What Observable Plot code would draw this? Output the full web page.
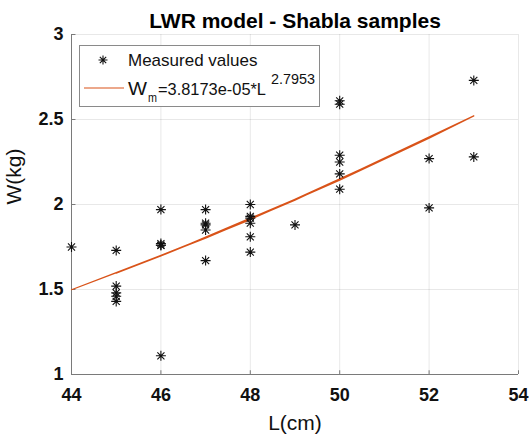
<!DOCTYPE html>
<html>
<head>
<meta charset="utf-8">
<script src="https://cdn.jsdelivr.net/npm/d3@7"></script>
<script src="https://cdn.jsdelivr.net/npm/@observablehq/plot@0.6"></script>
<style>
  html, body { margin: 0; padding: 0; background: #fff; }
  #chart { position: relative; width: 529px; height: 437px; }
  svg { font-family: "Liberation Sans", Arial, Helvetica, sans-serif; }
</style>
</head>
<body>
<div id="chart"></div>
<script>
// Measured samples (in original data order)
const lengths = [46, 50, 48, 45, 47, 50, 52, 48, 46, 44, 47, 49, 53, 50, 48, 45, 46, 48, 50, 47, 45, 46, 48, 52, 53, 50, 47, 45, 46, 48, 50, 47, 45];
const weights = [1.97, 2.29, 1.93, 1.52, 1.89, 2.61, 2.27, 2.00, 1.77, 1.75, 1.97, 1.88, 2.73, 2.18, 1.81, 1.48, 1.76, 1.92, 2.59, 1.85, 1.46, 1.11, 1.89, 1.98, 2.28, 2.25, 1.67, 1.73, 1.76, 1.72, 2.09, 1.88, 1.43];

// Fitted LWR model W = a * L^b (from the legend)
const fitA = 3.8173e-05;
const fitB = 2.7953;

const xTicks = [44, 46, 48, 50, 52, 54];
const yTicks = [1, 1.5, 2, 2.5, 3];
const titleText = "LWR model - Shabla samples";
const xLabel = "L(cm)";
const yLabel = "W(kg)";
const legendMeasured = "Measured values";

const samples = lengths.map((L, i) => ({L, W: weights[i]}));
const fitted = lengths.map(L => ({L, W: fitA * Math.pow(L, fitB)}));

const orange = "#D95319";
const font = '"Liberation Sans", Arial, Helvetica, sans-serif';

// MATLAB-like '*' marker: plus + cross
const star = {
  draw(context, size) {
    const r = Math.sqrt(size / Math.PI);
    const d = r * Math.SQRT1_2;
    context.moveTo(-r, 0); context.lineTo(r, 0);
    context.moveTo(0, -r); context.lineTo(0, r);
    context.moveTo(-d, -d); context.lineTo(d, d);
    context.moveTo(-d, d); context.lineTo(d, -d);
  }
};

const plot = Plot.plot({
  width: 529,
  height: 437,
  marginLeft: 71,
  marginRight: 11,
  marginTop: 34,
  marginBottom: 63,
  style: {fontFamily: font, background: "#fff", overflow: "visible"},
  x: {domain: [44, 54]},
  y: {domain: [1, 3]},
  marks: [
    Plot.gridX(xTicks, {stroke: "#000", strokeOpacity: 0.09, strokeWidth: 1}),
    Plot.gridY(yTicks, {stroke: "#000", strokeOpacity: 0.09, strokeWidth: 1}),
    Plot.ruleX([44], {stroke: "#7a7a7a", strokeWidth: 1}),
    Plot.ruleY([1], {stroke: "#7a7a7a", strokeWidth: 1}),
    Plot.ruleX(xTicks, {y1: 1, y2: 1.022, stroke: "#7a7a7a"}),
    Plot.ruleY(yTicks, {x1: 44, x2: 44.1, stroke: "#7a7a7a"}),
    Plot.axisX(xTicks, {tickSize: 0, tickPadding: 14, fontSize: 18, fontWeight: "bold", fill: "#111", label: null, tickFormat: d => String(d)}),
    Plot.axisY(yTicks, {tickSize: 0, tickPadding: 8, fontSize: 18, fontWeight: "bold", fill: "#111", label: null, tickFormat: d => String(d)}),
    Plot.line(fitted, {x: "L", y: "W", stroke: orange, strokeWidth: 1.2, curve: "linear"}),
    Plot.dot(samples, {x: "L", y: "W", symbol: star, r: 5, stroke: "#111", strokeWidth: 1.1, fill: "none"}),
    Plot.text([titleText], {frameAnchor: "top", lineAnchor: "bottom", dy: -7, fontSize: 21, fontWeight: "bold", fill: "#000"}),
    Plot.text([xLabel], {frameAnchor: "bottom", lineAnchor: "bottom", dy: 55, fontSize: 21, fill: "#111"}),
    Plot.text([yLabel], {frameAnchor: "left", rotate: -90, dx: -57, fontSize: 21, fill: "#111"})
  ]
});

document.getElementById("chart").appendChild(plot);

// Legend box drawn into the same SVG
const svg = d3.select(plot);
const lg = svg.append("g")
  .attr("font-family", font)
  .attr("text-anchor", "start");
lg.append("rect")
  .attr("x", 79.5).attr("y", 45.5).attr("width", 240).attr("height", 61)
  .attr("fill", "#fff").attr("stroke", "#8a8a8a").attr("stroke-width", 1);
lg.append("path")
  .attr("transform", "translate(103,60)")
  .attr("d", d3.symbol().type(star).size(Math.PI * 4.5 * 4.5)())
  .attr("fill", "none").attr("stroke", "#111").attr("stroke-width", 1.1);
lg.append("text")
  .attr("x", 128).attr("y", 66)
  .attr("font-size", 17).attr("fill", "#111")
  .text(legendMeasured);
lg.append("path")
  .attr("d", "M84,88H124")
  .attr("fill", "none")
  .attr("stroke", orange).attr("stroke-width", 1.2);
const eqMain = "=" + fitA.toExponential(4).replace("e-5", "e-05") + "*L";
const eq = lg.append("text").attr("fill", "#111");
eq.append("tspan").attr("x", 128).attr("y", 95)
  .attr("font-size", 18)
  .attr("textLength", 19).attr("lengthAdjust", "spacingAndGlyphs")
  .text("W");
eq.append("tspan").attr("x", 148).attr("y", 101.5)
  .attr("font-size", 13)
  .attr("textLength", 9).attr("lengthAdjust", "spacingAndGlyphs")
  .text("m");
eq.append("tspan").attr("x", 158).attr("y", 95)
  .attr("font-size", 17)
  .attr("textLength", 108).attr("lengthAdjust", "spacingAndGlyphs")
  .text(eqMain);
eq.append("tspan").attr("x", 271).attr("y", 84)
  .attr("font-size", 14)
  .attr("textLength", 44).attr("lengthAdjust", "spacingAndGlyphs")
  .text(String(fitB));
</script>
</body>
</html>
